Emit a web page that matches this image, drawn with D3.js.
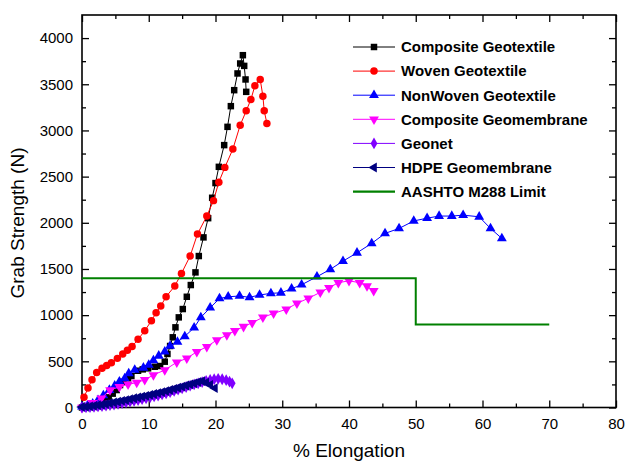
<!DOCTYPE html>
<html><head><meta charset="utf-8">
<script src="https://cdn.jsdelivr.net/npm/d3@7"></script>
<style>body{margin:0;background:#fff}svg{display:block}text{font-family:Arial,"Liberation Sans",sans-serif}</style>
</head><body>
<script>
const xTicks = [0,10,20,30,40,50,60,70,80];
const yTicks = [0,500,1000,1500,2000,2500,3000,3500,4000];
const seriesNames = ["Composite Geotextile","Woven Geotextile","NonWoven Geotextile","Composite Geomembrane","Geonet","HDPE Geomembrane","AASHTO M288 Limit"];

const compGeotexX = [0,0.8,1.6,2.4,3.2,4.0,4.6,5.2,5.7,6.2,6.9,7.4,8.4,9.1,9.9,10.9,11.7,12.4,12.8,13.2,13.6,14.0,14.5,15.1,15.7,16.3,17.0,17.5,18.2,18.9,19.5,20.0,20.5,21.3,21.8,22.3,22.8,23.3,23.7,24.1,24.3,24.5,24.6];
const compGeotexY = [0,10,25,45,75,110,150,189,243,279,316,341,398,413,424,441,449,496,580,666,760,868,976,1066,1199,1326,1463,1640,1842,2050,2271,2430,2606,2841,3039,3263,3436,3617,3725,3815,3699,3552,3418];

const wovenX = [0.3,0.9,1.5,2.2,3.0,3.7,4.4,5.3,6.1,6.8,7.5,8.4,9.4,10.4,11.1,11.8,12.6,13.9,14.9,16.2,17.3,18.7,19.7,20.5,21.4,22.6,23.7,24.6,25.3,25.9,26.7,27.1,27.3,27.7];
const wovenY = [110,210,300,380,425,455,485,532,579,620,660,738,831,939,1026,1098,1200,1315,1452,1640,1878,2074,2240,2440,2600,2798,3057,3212,3335,3483,3552,3371,3212,3076];

const nonwovenX = [0,0.8,1.6,2.4,3.2,4.1,4.9,5.6,6.4,7.0,7.9,9.2,10.0,10.7,11.5,12.4,13.2,14.3,15.4,16.8,17.8,19.2,20.6,21.9,23.6,25.1,26.6,28.3,29.8,31.4,32.9,35.2,37.2,39.1,41.2,43.4,45.4,47.5,49.7,51.7,53.5,55.4,57.1,59.5,61.2,62.9];
const nonwovenY = [10,20,40,80,130,189,235,279,316,370,406,430,460,510,560,604,666,710,770,864,976,1080,1180,1199,1207,1193,1218,1236,1242,1286,1329,1416,1496,1585,1675,1777,1885,1939,2020,2050,2073,2073,2083,2065,1939,1831];

const compGeomemX = [0,0.7,1.5,2.9,4.2,5.6,6.9,8.2,9.4,10.7,12.4,14.2,15.7,17.2,18.7,20.2,21.7,22.9,24.2,25.5,27.1,28.7,30.6,32.2,33.9,35.7,37.0,38.4,40.0,41.6,42.7,43.7];
const compGeomemY = [0,15,50,100,189,225,250,270,300,352,406,490,532,604,658,731,785,830,875,918,976,1019,1063,1128,1182,1247,1297,1351,1372,1351,1315,1264];

const geonetX = [0,0.6,1.2,1.8,2.4,3.0,3.6,4.2,4.8,5.4,6.0,6.6,7.2,7.8,8.4,9.0,9.6,10.2,10.8,11.4,12.0,12.6,13.2,13.8,14.4,15.0,15.6,16.2,16.8,17.4,18.0,18.6,19.2,19.8,20.4,21.0,21.6,22.1,22.5];
const geonetY = [0,2,5,8,12,16,20,26,32,40,48,56,64,72,80,90,100,110,120,130,142,154,166,180,194,208,222,236,250,262,274,288,298,306,310,306,296,280,262];

const hdpeX = [0,0.6,1.2,1.8,2.4,3.0,3.6,4.2,4.8,5.4,6.0,6.6,7.2,7.8,8.4,9.0,9.6,10.2,10.8,11.4,12.0,12.6,13.2,13.8,14.4,15.0,15.6,16.2,16.8,17.4,18.0,18.6,19.2,19.9];
const hdpeY = [5,8,12,18,24,30,38,46,54,62,72,80,90,100,108,118,126,136,146,156,166,178,190,202,214,226,238,250,262,275,285,270,245,210];

const aashtoX = [0,50,50,70];
const aashtoY = [1400,1400,900,900];

const W=628,H=461;
const svg=d3.select("body").append("svg").attr("width",W).attr("height",H);
const x=d3.scaleLinear([0,80],[82,616]);
const y=d3.scaleLinear([0,4250],[407.5,15]);

const fontTick="15px";
function styleAxis(g){g.select(".domain").remove();g.selectAll("line").attr("stroke","#000").attr("stroke-width",1.3);g.selectAll("text").attr("font-size",fontTick).attr("fill","#000").attr("font-family","Arial, 'Liberation Sans', sans-serif");}
const xMinor=d3.range(5,80,10), yMinor=d3.range(250,4250,500);
svg.append("g").attr("transform","translate(0,407.5)").call(d3.axisBottom(x).tickValues(xTicks).tickSize(-7).tickPadding(11).tickFormat(d3.format("d"))).call(styleAxis);
svg.append("g").attr("transform","translate(0,407.5)").call(d3.axisBottom(x).tickValues(xMinor).tickSize(-4).tickFormat("")).call(styleAxis);
svg.append("g").attr("transform","translate(0,15)").call(d3.axisTop(x).tickValues(xTicks).tickSize(-7).tickFormat("")).call(styleAxis);
svg.append("g").attr("transform","translate(0,15)").call(d3.axisTop(x).tickValues(xMinor).tickSize(-4).tickFormat("")).call(styleAxis);
svg.append("g").attr("transform","translate(82,0)").call(d3.axisLeft(y).tickValues(yTicks).tickSize(-7).tickPadding(9).tickFormat(d3.format("d"))).call(styleAxis);
svg.append("g").attr("transform","translate(82,0)").call(d3.axisLeft(y).tickValues(yMinor).tickSize(-4).tickFormat("")).call(styleAxis);
svg.append("g").attr("transform","translate(616,0)").call(d3.axisRight(y).tickValues(yTicks).tickSize(-7).tickFormat("")).call(styleAxis);
svg.append("g").attr("transform","translate(616,0)").call(d3.axisRight(y).tickValues(yMinor).tickSize(-4).tickFormat("")).call(styleAxis);
svg.append("rect").attr("x",82).attr("y",15).attr("width",534).attr("height",392.5).attr("fill","none").attr("stroke","#000").attr("stroke-width",1.6);

svg.append("text").attr("x",349).attr("y",457).attr("text-anchor","middle").attr("font-size","19px").text("% Elongation");
svg.append("text").attr("transform","translate(24,223) rotate(-90)").attr("text-anchor","middle").attr("font-size","19px").text("Grab Strength (N)");

const series=[
 {name:seriesNames[0],xs:compGeotexX,ys:compGeotexY,color:"#000000",sym:d3.symbolSquare,size:42,rot:0},
 {name:seriesNames[1],xs:wovenX,ys:wovenY,color:"#ff0000",sym:d3.symbolCircle,size:44,rot:0},
 {name:seriesNames[2],xs:nonwovenX,ys:nonwovenY,color:"#0000ff",sym:d3.symbolTriangle,size:42,rot:0},
 {name:seriesNames[3],xs:compGeomemX,ys:compGeomemY,color:"#ff00ff",sym:d3.symbolTriangle,size:42,rot:180},
 {name:seriesNames[4],xs:geonetX,ys:geonetY,color:"#8000ff",sym:d3.symbolDiamond,size:40,rot:0},
 {name:seriesNames[5],xs:hdpeX,ys:hdpeY,color:"#000080",sym:d3.symbolTriangle,size:42,rot:-90}
];
const line=d3.line().x(d=>x(d[0])).y(d=>y(d[1]));
series.forEach(s=>{
  const pts=s.xs.map((v,i)=>[v,s.ys[i]]);
  const g=svg.append("g");
  g.append("path").attr("d",line(pts)).attr("fill","none").attr("stroke",s.color).attr("stroke-width",1);
  g.selectAll("path.m").data(pts).join("path").attr("class","m")
   .attr("d",d3.symbol(s.sym,s.size)())
   .attr("transform",d=>`translate(${x(d[0])},${y(d[1])}) rotate(${s.rot})`)
   .attr("fill",s.color);
});
svg.append("path").attr("d",line(aashtoX.map((v,i)=>[v,aashtoY[i]]))).attr("fill","none").attr("stroke","#008000").attr("stroke-width",2);

const lg=svg.append("g");
const legendItems=series.concat([{name:seriesNames[6],color:"#008000",sym:null}]);
legendItems.forEach((s,i)=>{
  const yy=47+i*24.1;
  lg.append("line").attr("x1",353).attr("x2",395).attr("y1",yy).attr("y2",yy).attr("stroke",s.color).attr("stroke-width",s.sym?1:2.2);
  if(s.sym) lg.append("path").attr("d",d3.symbol(s.sym,s.size)()).attr("transform",`translate(374,${yy}) rotate(${s.rot})`).attr("fill",s.color);
  lg.append("text").attr("x",401).attr("y",yy+5.3).attr("font-size","15px").attr("font-weight","bold").text(s.name);
});
</script>
</body></html>
